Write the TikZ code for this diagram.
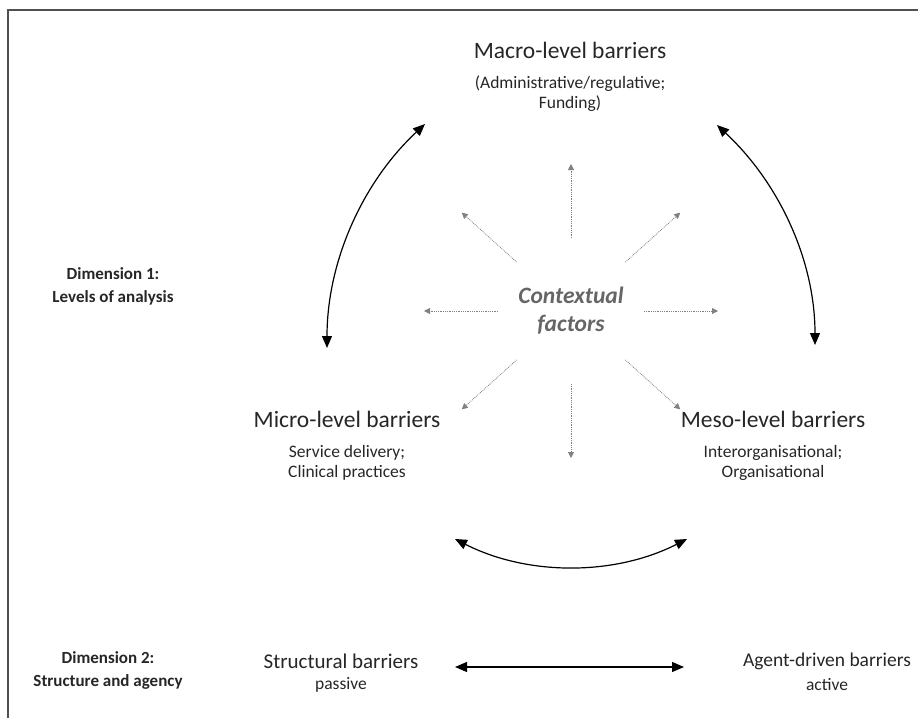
\documentclass[tikz,border=0pt]{standalone}
\usepackage{fontspec}
\setmainfont{Carlito}
\usetikzlibrary{arrows.meta,calc}
\definecolor{framegray}{HTML}{505050}
\definecolor{ctxgray}{HTML}{666666}
\definecolor{dotgray}{HTML}{808080}
\definecolor{txt}{HTML}{262626}
\tikzset{
  title/.style={inner sep=0pt, font=\fontsize{23.5}{28}\selectfont, text=txt},
  bottitle/.style={inner sep=0pt, font=\fontsize{21}{25}\selectfont, text=txt},
  subtext/.style={inner sep=0pt, align=center, font=\fontsize{17.5}{20}\selectfont, text=txt},
  dimlabel/.style={inner sep=0pt, align=center, font=\bfseries\fontsize{17}{23}\selectfont, text=txt},
  ctxlabel/.style={inner sep=0pt, align=center, font=\bfseries\itshape\fontsize{23.5}{28}\selectfont, text=ctxgray},
  bigarrow/.style={line width=1.2pt, {Triangle[length=12pt,width=10pt]}-{Triangle[length=12pt,width=10pt]}},
  dotarrow/.style={dotgray, densely dotted, line width=0.8pt, -{Triangle[length=6pt,width=6pt]}}
}
\begin{document}
\begin{tikzpicture}[x=1pt,y=1pt]
\useasboundingbox (0,0) rectangle (918,-718);
% frame
\draw[framegray, line width=1.5pt] (8,-718) -- (8,-10) -- (918,-10);

% level nodes
\node[title] (macro) at (570,-50) {Macro-level barriers};
\node[subtext] (macrosub) at (570,-94) {(Administrative/regulative;\\Funding)};
\node[title] (micro) at (347,-419) {Micro-level barriers};
\node[subtext] (microsub) at (347,-463) {Service delivery;\\Clinical practices};
\node[title] (meso) at (773,-419) {Meso-level barriers};
\node[subtext] (mesosub) at (773,-463) {Interorganisational;\\Organisational};

\node[dimlabel] (dim1) at (113,-286) {Dimension 1:\\Levels of analysis};
\node[dimlabel] (dim2) at (108,-670) {Dimension 2:\\Structure and agency};

\node[ctxlabel] (ctx) at (571,-311) {Contextual\\factors};

% dotted arrows from contextual factors
\foreach \a in {0,42,90,138,180,222,270,318}
  \draw[dotarrow] ($(ctx.center)+(\a:73)$) -- ($(ctx.center)+(\a:147)$);

% curved double arrows between levels
\coordinate (lb) at (327,-348);
\coordinate (lt) at (425,-124);
\coordinate (rt) at (717,-125);
\coordinate (rb) at (815,-345);
\coordinate (bl) at (455,-539);
\coordinate (br) at (687,-539);
\draw[bigarrow] (lb) to[out=90,in=223,looseness=0.9] (lt);
\draw[bigarrow] (rt) to[out=-43,in=90,looseness=0.9] (rb);
\draw[bigarrow] (bl) to[out=-27,in=207,looseness=0.9] (br);

% dimension 2
\node[bottitle] (struct) at (341,-661) {Structural barriers};
\node[subtext] (passive) at (341,-685) {passive};
\node[bottitle, font=\fontsize{19.5}{24}\selectfont] (agent) at (827,-661) {Agent-driven barriers};
\node[subtext] (active) at (827,-685) {active};
\coordinate (sa) at (455,-667);
\coordinate (aa) at (684,-667);
\draw[bigarrow] (sa) -- (aa);
\end{tikzpicture}
\end{document}
